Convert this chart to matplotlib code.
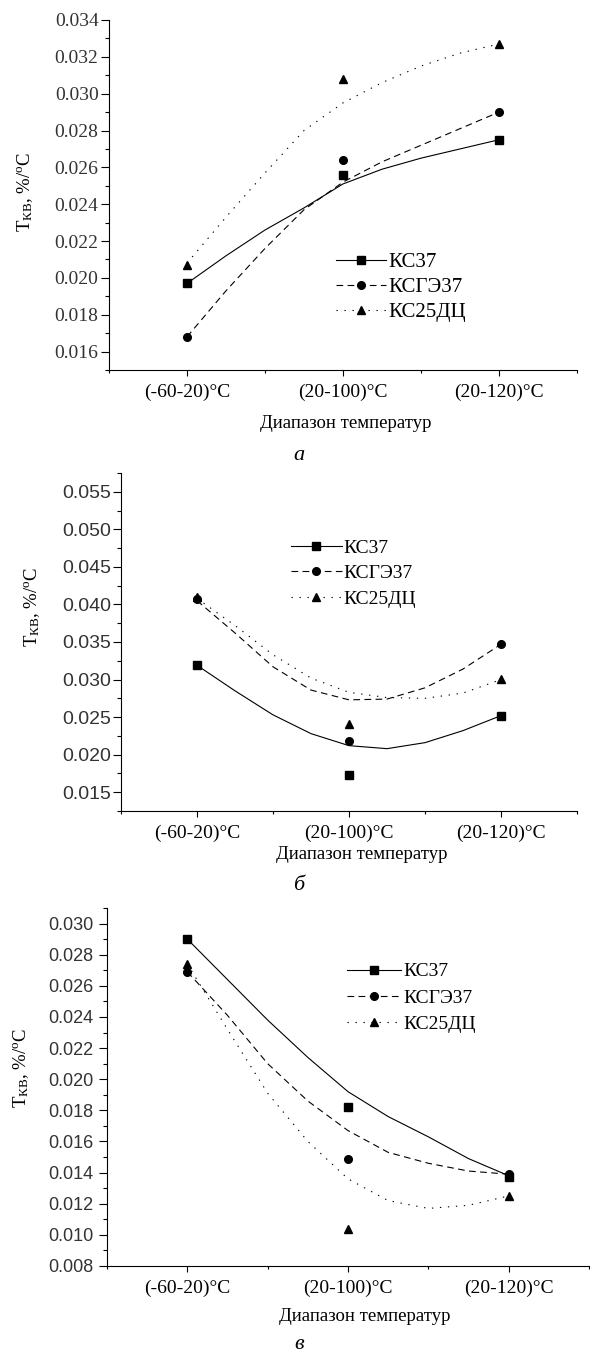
import numpy as np
import matplotlib.pyplot as plt
from matplotlib.lines import Line2D
from matplotlib.ticker import MultipleLocator, FixedLocator, FormatStrFormatter

plt.rcParams['font.family'] = ['Liberation Serif', 'DejaVu Serif']
plt.rcParams['mathtext.fontset'] = 'custom'
plt.rcParams['mathtext.rm'] = 'Liberation Serif'
plt.rcParams['mathtext.it'] = 'Liberation Serif:italic'

# categories and series names
categories = ['(-60-20)°C', '(20-100)°C', '(20-120)°C']
series_names = ['КС37', 'КСГЭ37', 'КС25ДЦ']
x_label = 'Диапазон температур'
y_label = '$\\mathrm{T_{КВ}}$, %/$^{\\mathrm{o}}$C'

# measured points, panel a
a_ks37 = [0.0197, 0.0256, 0.0275]
a_ksge37 = [0.0168, 0.0264, 0.0290]
a_ks25 = [0.0207, 0.0308, 0.0327]

# measured points, panel b
b_ks37 = [0.0319, 0.0173, 0.0252]
b_ksge37 = [0.0407, 0.0218, 0.0348]
b_ks25 = [0.0410, 0.0241, 0.0301]

# measured points, panel v
c_ks37 = [0.0290, 0.0182, 0.0137]
c_ksge37 = [0.0269, 0.0149, 0.0139]
c_ks25 = [0.0274, 0.0104, 0.0125]

# approximating curves
curve_x = [0, 0.25, 0.5, 0.75, 1, 1.25, 1.5, 1.75, 2]
a_fit_ks37 = [0.0197, 0.0212, 0.0226, 0.0238, 0.0251, 0.0259, 0.0265, 0.0270, 0.0275]
a_fit_ksge37 = [0.0168, 0.0193, 0.0216, 0.0237, 0.0252, 0.0263, 0.0272, 0.0281, 0.0290]
a_fit_ks25 = [0.0208, 0.0233, 0.0257, 0.0280, 0.0295, 0.0306, 0.0315, 0.0322, 0.0327]

b_fit_ks37 = [0.0319, 0.0285, 0.0253, 0.0228, 0.0212, 0.0208, 0.0216, 0.0232, 0.0252]
b_fit_ksge37 = [0.0405, 0.0362, 0.0317, 0.0286, 0.0273, 0.0274, 0.0289, 0.0314, 0.0347]
b_fit_ks25 = [0.0408, 0.0372, 0.0333, 0.0302, 0.0283, 0.0276, 0.0275, 0.0282, 0.0300]

c_fit_ks37 = [0.0290, 0.0264, 0.0238, 0.0214, 0.0192, 0.0176, 0.0163, 0.0149, 0.0138]
c_fit_ksge37 = [0.0269, 0.0241, 0.0210, 0.0186, 0.0167, 0.0153, 0.0146, 0.0141, 0.0139]
c_fit_ks25 = [0.0274, 0.0232, 0.0191, 0.0160, 0.0136, 0.0122, 0.0117, 0.0119, 0.0125]

line_styles = ['-', (0, (6, 4)), (0, (1.2, 6))]
markers = ['s', 'o', '^']


def draw_panel(ax, points, fits, ylim, ystep, ysans, ysize, ypad, leg_anchor,
               leg_size, hlen, leg_space, ylab_pos, xlab_pos):
    cat_x = np.arange(len(categories))
    for pts, fit, ls, m in zip(points, fits, line_styles, markers):
        ax.plot(curve_x, fit, color='k', lw=0.8, ls=ls)
        ax.plot(cat_x, pts, ls='none', marker=m, ms=5.5, color='k')

    ax.spines['top'].set_visible(False)
    ax.spines['right'].set_visible(False)
    ax.set_xlim(-0.5, 2.5)
    ax.set_ylim(*ylim)
    ax.xaxis.set_major_locator(FixedLocator([0, 1, 2]))
    ax.xaxis.set_minor_locator(FixedLocator([-0.5, 0.5, 1.5, 2.5]))
    ax.set_xticklabels(categories, fontsize=14)
    ax.yaxis.set_major_locator(MultipleLocator(ystep))
    ax.yaxis.set_minor_locator(MultipleLocator(ystep / 2))
    ax.yaxis.set_major_formatter(FormatStrFormatter('%.3f'))
    ax.tick_params(axis='x', which='major', length=4.5, width=0.8, pad=5)
    ax.tick_params(axis='x', which='minor', length=2.5, width=0.8)
    ax.tick_params(axis='y', which='major', length=6, width=0.8, pad=ypad)
    ax.tick_params(axis='y', which='minor', length=3, width=0.8)
    for lbl in ax.get_yticklabels():
        if ysans:
            lbl.set_family(['Liberation Sans', 'DejaVu Sans'])
        lbl.set_fontsize(ysize)
        lbl.set_color('#333333')

    ax.set_xlabel(x_label, fontsize=13.5)
    ax.xaxis.set_label_coords(*xlab_pos)
    ax.xaxis.label.set_va('center')
    ax.set_ylabel(y_label, fontsize=13.5)
    ax.yaxis.set_label_coords(*ylab_pos)
    ax.yaxis.label.set_va('center')

    handles = [Line2D([], [], color='k', lw=0.8, ls=ls, marker=m, ms=5.5)
               for ls, m in zip(line_styles, markers)]
    ax.legend(handles, series_names, loc='upper left', bbox_to_anchor=leg_anchor,
              frameon=False, borderpad=0, borderaxespad=0, handlelength=hlen,
              handletextpad=0.1, labelspacing=leg_space, fontsize=leg_size)


fig = plt.figure(figsize=(5.9, 13.54), dpi=100)

ax1 = fig.add_axes([109 / 590, 1 - 370 / 1354, 468 / 590, 350 / 1354])
draw_panel(ax1, [a_ks37, a_ksge37, a_ks25], [a_fit_ks37, a_fit_ksge37, a_fit_ks25],
           (0.015, 0.034), 0.002, False, 14, 1.5, (0.485, 0.335), 15, 2.4, 0.25,
           (-0.180, 0.509), (0.506, -0.154))

ax2 = fig.add_axes([121 / 590, 1 - 811 / 1354, 456 / 590, 338 / 1354])
draw_panel(ax2, [b_ks37, b_ksge37, b_ks25], [b_fit_ks37, b_fit_ksge37, b_fit_ks25],
           (0.0125, 0.0575), 0.005, True, 14, 1.0, (0.373, 0.805), 14, 2.6, 0.42,
           (-0.195, 0.604), (0.527, -0.130))

ax3 = fig.add_axes([107 / 590, 1 - 1266 / 1354, 482 / 590, 358 / 1354])
draw_panel(ax3, [c_ks37, c_ksge37, c_ks25], [c_fit_ks37, c_fit_ksge37, c_fit_ks25],
           (0.008, 0.031), 0.002, True, 13, 4, (0.498, 0.847), 14, 2.8, 0.45,
           (-0.179, 0.553), (0.535, -0.142))

for letter, ypix, va in zip(['а', 'б', 'в'], [455, 885, 1354], ['center', 'center', 'bottom']):
    fig.text(299 / 590, 1 - ypix / 1354, letter, style='italic', fontsize=16,
             ha='center', va=va)

fig.savefig('out.png', dpi=100)
